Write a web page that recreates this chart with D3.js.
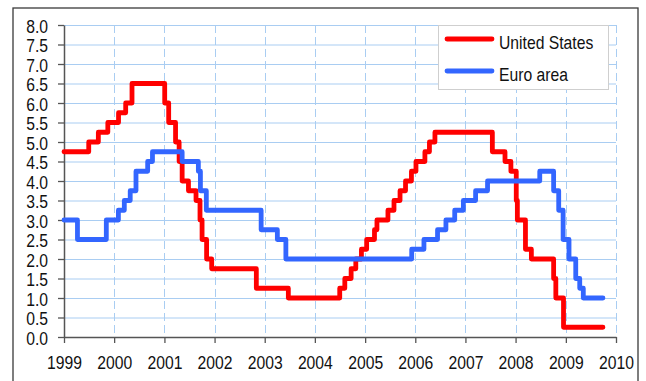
<!DOCTYPE html>
<html>
<head>
<meta charset="utf-8">
<script src="https://cdn.jsdelivr.net/npm/d3@7/dist/d3.min.js"></script>
<style>
  html, body { margin: 0; padding: 0; background: #fff; }
  svg { display: block; }
  .lbl { font-family: "Liberation Sans", Arial, sans-serif; fill: #111; }
</style>
</head>
<body>
<svg id="chart" width="646" height="381"></svg>
<script>
// Policy rates: dates on which a new rate took effect, and the rate (%)
const usDates = [
  "1999-01-01", "1999-06-30", "1999-09-08", "1999-11-16", "2000-02-02", "2000-03-25",
  "2000-05-10", "2001-01-03", "2001-02-01", "2001-03-23", "2001-04-18", "2001-05-10",
  "2001-06-25", "2001-08-19", "2001-09-17", "2001-10-02", "2001-11-04", "2001-12-11",
  "2002-11-01", "2003-06-22", "2004-06-30", "2004-08-06", "2004-09-21", "2004-10-25",
  "2004-12-05", "2005-01-12", "2005-03-10", "2005-03-28", "2005-06-16", "2005-07-30",
  "2005-09-12", "2005-10-22", "2005-12-04", "2006-01-06", "2006-03-12", "2006-04-14",
  "2006-05-24", "2007-07-16", "2007-10-16", "2007-11-28", "2008-01-06", "2008-01-14",
  "2008-03-13", "2008-04-25", "2008-10-04", "2008-10-20", "2008-12-15", "2009-09-28"
];
const usRates = [
  4.75, 5.00, 5.25, 5.50, 5.75, 6.00,
  6.50, 6.00, 5.50, 5.00, 4.50, 4.00,
  3.75, 3.50, 3.00, 2.50, 2.00, 1.75,
  1.25, 1.00, 1.25, 1.50, 1.75, 2.00,
  2.25, 2.50, 2.75, 3.00, 3.25, 3.50,
  3.75, 4.00, 4.25, 4.50, 4.75, 5.00,
  5.25, 4.75, 4.50, 4.25, 3.50, 3.00,
  2.25, 2.00, 1.50, 1.00, 0.25, 0.25
];

const euroDates = [
  "1999-01-01", "1999-04-09", "1999-11-05", "2000-02-01", "2000-03-15", "2000-04-27",
  "2000-06-08", "2000-09-01", "2000-10-06", "2001-05-10", "2001-09-05", "2001-09-20",
  "2001-11-02", "2002-12-06", "2003-04-03", "2003-06-04", "2005-12-06", "2006-03-05",
  "2006-06-12", "2006-08-12", "2006-10-15", "2006-12-17", "2007-03-16", "2007-06-11",
  "2008-06-25", "2008-10-04", "2008-11-10", "2008-12-12", "2009-01-24", "2009-03-14",
  "2009-04-12", "2009-05-08", "2009-09-28"
];
const euroRates = [
  3.00, 2.50, 3.00, 3.25, 3.50, 3.75,
  4.25, 4.50, 4.75, 4.50, 4.25, 3.75,
  3.25, 2.75, 2.50, 2.00, 2.25, 2.50,
  2.75, 3.00, 3.25, 3.50, 3.75, 4.00,
  4.25, 3.75, 3.25, 2.50, 2.00, 1.50,
  1.25, 1.00, 1.00
];

const yearTicks = [1999, 2000, 2001, 2002, 2003, 2004, 2005, 2006, 2007, 2008, 2009, 2010];
const rateTicks = d3.range(0, 8.01, 0.5);
const seriesNames = ["United States", "Euro area"];
const seriesColors = ["#ff0000", "#3366ff"];

const parse = d3.timeParse("%Y-%m-%d");
const toPoints = (dates, rates) => dates.map((d, i) => ({ date: parse(d), rate: rates[i] }));
const series = [toPoints(usDates, usRates), toPoints(euroDates, euroRates)];

const svg = d3.select("#chart");
const plot = { left: 64, right: 616, top: 25, bottom: 337 };
const FONT = 18.5;     // label size
const NARROW = 0.85;   // horizontal squeeze for a narrow face

const x = d3.scaleTime()
  .domain([new Date(yearTicks[0], 0, 1), new Date(yearTicks[yearTicks.length - 1], 0, 1)])
  .range([plot.left, plot.right]);
const y = d3.scaleLinear().domain([0, 8]).range([plot.bottom, plot.top]);

// Outer frame
svg.append("rect")
  .attr("x", 13).attr("y", 8).attr("width", 625).attr("height", 390)
  .attr("fill", "none").attr("stroke", "#3a3a3a").attr("stroke-width", 1.3);

// Grid: solid horizontal lines, dashed vertical lines
const grid = svg.append("g");
grid.selectAll("line.h").data(rateTicks.filter(v => v > 0)).join("line")
  .attr("class", "h")
  .attr("x1", plot.left).attr("x2", plot.right)
  .attr("y1", d => y(d) + 0.5).attr("y2", d => y(d) + 0.5)
  .attr("stroke", "#a9cdf2").attr("stroke-width", 1);
grid.selectAll("line.v").data(yearTicks.slice(1)).join("line")
  .attr("class", "v")
  .attr("x1", d => Math.round(x(new Date(d, 0, 1))) + 0.5)
  .attr("x2", d => Math.round(x(new Date(d, 0, 1))) + 0.5)
  .attr("y1", plot.top).attr("y2", plot.bottom)
  .attr("stroke", "#a9cdf2").attr("stroke-width", 1)
  .attr("stroke-dasharray", "8,4");

// Axes
const yAxis = d3.axisLeft(y).tickValues(rateTicks).tickFormat(d3.format(".1f"))
  .tickSize(6).tickSizeOuter(0).tickPadding(10);
const xAxis = d3.axisBottom(x).tickValues(yearTicks.map(t => new Date(t, 0, 1)))
  .tickFormat(d3.timeFormat("%Y")).tickSize(6).tickSizeOuter(0).tickPadding(13);

const gy = svg.append("g").attr("transform", `translate(${plot.left},0)`).call(yAxis);
const gx = svg.append("g").attr("transform", `translate(0,${plot.bottom})`).call(xAxis);
[gy, gx].forEach(g => {
  g.attr("font-family", null).attr("font-size", null);
  g.select(".domain").attr("stroke", "#555").attr("stroke-width", 1.5);
  g.selectAll(".tick line").attr("stroke", "#555").attr("stroke-width", 1.3);
  g.selectAll(".tick text").attr("class", "lbl").attr("font-size", FONT).attr("fill", "#111")
    .attr("transform", `scale(${NARROW},1)`);
});
gy.selectAll(".tick text").attr("x", -16 / NARROW).attr("dy", "0.38em");

// Rate lines
const line = d3.line()
  .x(d => x(d.date))
  .y(d => y(d.rate))
  .curve(d3.curveStepAfter);

svg.append("g").selectAll("path").data(series).join("path")
  .attr("d", line)
  .attr("fill", "none")
  .attr("stroke", (d, i) => seriesColors[i])
  .attr("stroke-width", 4.8)
  .attr("stroke-linejoin", "round")
  .attr("stroke-linecap", "round");

// Legend
const legend = svg.append("g");
legend.append("rect")
  .attr("x", 438.5).attr("y", 25.5).attr("width", 170).attr("height", 64)
  .attr("fill", "#fff").attr("stroke", "#cfcfcf").attr("stroke-width", 1);
seriesNames.forEach((name, i) => {
  const ly = 39 + i * 32;
  legend.append("line")
    .attr("x1", 447).attr("x2", 492).attr("y1", ly).attr("y2", ly)
    .attr("stroke", seriesColors[i]).attr("stroke-width", 4.8)
    .attr("stroke-linecap", "round");
  legend.append("text").attr("class", "lbl")
    .attr("x", 499 / NARROW).attr("y", ly + 10)
    .attr("transform", `scale(${NARROW},1)`)
    .attr("font-size", FONT)
    .text(name);
});
</script>
</body>
</html>
